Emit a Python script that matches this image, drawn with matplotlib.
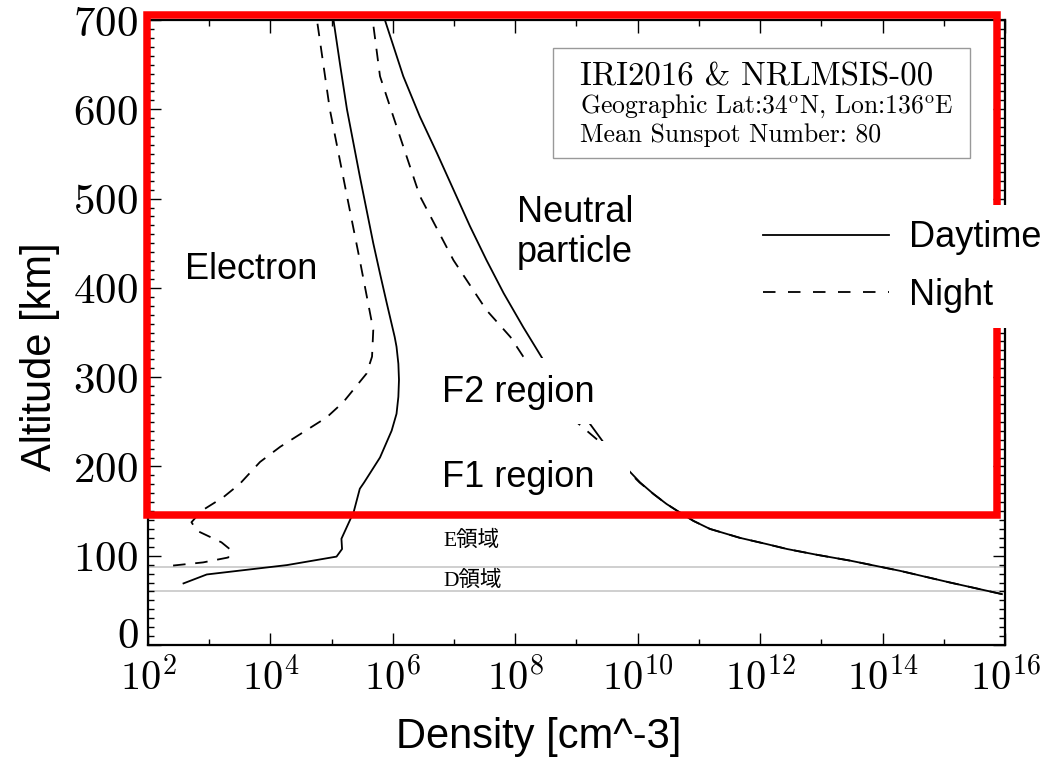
import matplotlib
matplotlib.use('Agg')
import matplotlib.pyplot as plt
import matplotlib.transforms as mtransforms
from matplotlib.patches import Rectangle
from matplotlib.lines import Line2D
from matplotlib.ticker import FixedLocator, FuncFormatter, MultipleLocator
import numpy as np

plt.rcParams['font.family'] = ['Liberation Sans', 'Noto Sans CJK JP']
plt.rcParams['mathtext.fontset'] = 'cm'
plt.rcParams['lines.scale_dashes'] = False

# altitude [km] and log10 density [cm^-3]
elec_day_alt = [69, 79, 89.5, 99, 107.5, 119, 149, 175, 182, 210, 240, 259, 278, 297, 315, 334, 345, 383,
                416, 450, 525, 600, 649, 700]
elec_day_log = [2.58, 2.96, 4.27, 5.08, 5.17, 5.16, 5.36, 5.46, 5.53, 5.79, 5.98, 6.06, 6.09, 6.10, 6.09, 6.06, 6.03, 5.90,
                5.79, 5.68, 5.46, 5.25, 5.14, 5.03]

elec_night_alt = [89, 92.5, 98, 105.5, 115, 128, 137.5, 150.5, 165.5, 180.5, 205, 222, 238.5, 255, 272, 304, 323, 353,
                  431, 503, 600, 700]
elec_night_log = [2.41, 2.90, 3.31, 3.37, 3.20, 2.80, 2.71, 2.88, 3.23, 3.50, 3.83, 4.16, 4.54, 4.92, 5.19, 5.57, 5.66, 5.68,
                  5.46, 5.25, 4.97, 4.76]

neut_day_alt = [57, 70, 83, 94.5, 101, 107.5, 113, 120, 130, 139, 150.5, 158, 169, 182, 193.5, 227, 319, 356, 394, 431,
                469, 510, 551, 592, 637, 700]
neut_day_log = [15.95, 15.10, 14.29, 13.47, 12.93, 12.44, 12.11, 11.67, 11.18, 10.91, 10.64, 10.47, 10.26, 10.04, 9.88, 9.44,
                8.46, 8.13, 7.81, 7.53, 7.26, 6.99, 6.72, 6.44, 6.17, 5.87]

neut_night_alt = [57, 70, 83, 94.5, 101, 107.5, 113, 120, 130, 139, 150.5, 158, 169, 182, 193.5, 227, 248, 323, 345, 375,
                  431, 503, 581, 637, 700]
neut_night_log = [15.95, 15.10, 14.29, 13.47, 12.93, 12.44, 12.11, 11.67, 11.18, 10.91, 10.64, 10.47, 10.26, 10.03, 9.86, 9.39,
                  9.03, 8.13, 7.92, 7.53, 6.99, 6.44, 6.06, 5.79, 5.67]

region_lines = [87, 60]

W, H = 1064, 758
def px(x, y):
    return x / W, 1 - y / H

fig = plt.figure(figsize=(W / 100, H / 100), dpi=100)
ax = fig.add_axes([148 / W, 1 - 645 / H, 857 / W, 625 / H])

dash = (0, (9, 7))
ax.plot(10 ** np.array(elec_day_log), elec_day_alt, color='black', lw=1.3, zorder=2)
ax.plot(10 ** np.array(elec_night_log), elec_night_alt, color='black', lw=1.3, ls=dash, zorder=2)
ax.plot(10 ** np.array(neut_day_log), neut_day_alt, color='black', lw=1.3, zorder=2)
ax.plot(10 ** np.array(neut_night_log), neut_night_alt, color='black', lw=1.3, ls=dash, zorder=2)

for a in region_lines:
    ax.axhline(a, color='#cccccc', lw=1.3, zorder=1)

ax.set_xscale('log')
ax.set_xlim(1e2, 1e16)
ax.set_ylim(0, 700)

ax.xaxis.set_major_locator(FixedLocator([10.0 ** e for e in range(2, 17, 2)]))
ax.xaxis.set_minor_locator(FixedLocator([10.0 ** e for e in range(3, 16, 2)]))
ax.xaxis.set_major_formatter(FuncFormatter(lambda v, p: r'$10^{%d}$' % round(np.log10(v))))
ax.xaxis.set_minor_formatter(FuncFormatter(lambda v, p: ''))
ax.yaxis.set_major_locator(FixedLocator(range(0, 701, 100)))
ax.yaxis.set_minor_locator(MultipleLocator(10))
ax.yaxis.set_major_formatter(FuncFormatter(lambda v, p: r'$%d$' % v))

ax.tick_params(which='both', direction='in', top=True, right=True, width=1.0)
ax.tick_params(which='major', length=9)
ax.tick_params(which='minor', length=4.5)
ax.tick_params(axis='x', labelsize=29, pad=9)
ax.tick_params(axis='y', labelsize=31, pad=7)
for s in ax.spines.values():
    s.set_linewidth(1.6)

# the "0" label sits a little higher, clear of the 10^2 label
zero_lbl = ax.yaxis.get_major_ticks()[0].label1
zero_lbl.set_transform(zero_lbl.get_transform() + mtransforms.ScaledTranslation(0, 0.13, fig.dpi_scale_trans))

# white masks behind the region labels
ax.add_patch(Rectangle((10 ** 7.15, 248), 10 ** 9.6 - 10 ** 7.15, 73, facecolor='white', edgecolor='none', zorder=3))
ax.add_patch(Rectangle((10 ** 6.75, 148), 10 ** 9.88 - 10 ** 6.75, 80, facecolor='white', edgecolor='none', zorder=3))

ax.text(10 ** 2.6, 420, 'Electron', fontsize=26, va='center', zorder=6)
ax.text(10 ** 8.03, 462, 'Neutral\nparticle', fontsize=26, va='center', zorder=6)
ax.text(10 ** 6.8, 283, 'F2 region', fontsize=26, va='center', zorder=6)
ax.text(10 ** 6.8, 188, 'F1 region', fontsize=26, va='center', zorder=6)
ax.text(10 ** 6.82, 117, 'E領域', fontsize=15.5, va='center', family=['Liberation Serif', 'Noto Sans CJK JP'], zorder=6)
ax.text(10 ** 6.82, 72, 'D領域', fontsize=15.5, va='center', family=['Liberation Serif', 'Noto Sans CJK JP'], zorder=6)

# red highlight frame
ax.add_patch(Rectangle((10 ** 1.984, 146), 10 ** 15.87 - 10 ** 1.984, 705.6 - 146, fill=False,
                       edgecolor='#ff0000', lw=5.4, joinstyle='miter', clip_on=False, zorder=4))

handles = [Line2D([], [], color='black', lw=1.3), Line2D([], [], color='black', lw=1.3, ls=(0, (9, 9)))]
leg = ax.legend(handles, ['Daytime', 'Night'], loc='upper left', bbox_to_anchor=(0.70, 0.704),
                borderaxespad=0, fontsize=26, frameon=True, fancybox=False, framealpha=1,
                edgecolor='none', facecolor='white', handlelength=3.5, handletextpad=0.55,
                labelspacing=0.62, borderpad=0.42)
leg.set_zorder(7)

# info box
x0, y0 = px(553, 158)
x1, y1 = px(970, 48)
fig.patches.append(Rectangle((x0, y0), x1 - x0, y1 - y0, transform=fig.transFigure,
                             facecolor='white', edgecolor='#999999', lw=1.0, zorder=8))
fig.text(*px(580, 85), 'IRI2016 & NRLMSIS-00', family='cmr10', fontsize=23.7, va='baseline', zorder=9)
fig.text(*px(580, 113), r'Geographic Lat:34$^{\rm o}$N, Lon:136$^{\rm o}$E', family='cmr10', fontsize=18.5, va='baseline', zorder=9)
fig.text(*px(580, 142), 'Mean Sunspot Number: 80', family='cmr10', fontsize=18.5, va='baseline', zorder=9)

fig.text(*px(40, 357), 'Altitude [km]', fontsize=30, rotation=90, ha='center', va='center')
fig.text(*px(539, 737), 'Density [cm^-3]', fontsize=30, ha='center', va='center')

fig.savefig('out.png', dpi=100)
